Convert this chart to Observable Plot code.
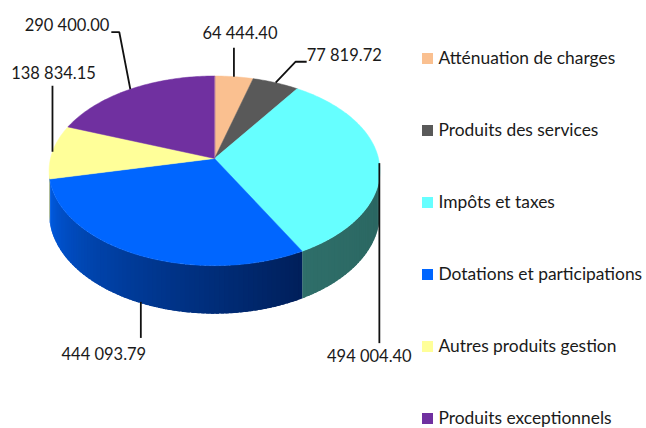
<!DOCTYPE html>
<html><head><meta charset="utf-8">
<script src="https://cdn.jsdelivr.net/npm/d3@7"></script>
<script src="https://cdn.jsdelivr.net/npm/@observablehq/plot@0.6"></script>
<style>html,body{margin:0;padding:0;background:#fff;}#chart{width:646px;height:428px;}</style>
</head><body><div id="chart"></div>
<script>
// ---- data ----
const categories = ["Atténuation de charges","Produits des services","Impôts et taxes","Dotations et participations","Autres produits gestion","Produits exceptionnels"];
const values = [64444.40, 77819.72, 494004.40, 444093.79, 138834.15, 290400.00];

// ---- style ----
const topColors = ["#fac090","#595959","#66ffff","#0066ff","#ffff99","#7030a0"];
const sideColors = [["#c89a72","#b08664"],["#404040","#333333"],["#2f6f6a","#2a6560"],["#005ee8","#001f5a"],["#cccc7a","#b8b86c"],["#5a2680","#4a1f6a"]];
const FONT = "Lato, 'Open Sans', sans-serif";
// 3D projection of the pie (center, radii, perspective, thickness)
const geo = {cx: 214, cy: 158, A: 164, B: 93.2, k: 0.13, h: 41.8};
// label leader layout: anchor rim, path offsets from anchor, text offset from last point
const labelLayout = [
  {rim: "top", path: [[0,0],[0,-29]], text: [6,-14], anchor: "middle"},
  {rim: "top", path: [[0,0],[20,-21],[31,-21]], text: [0,-6], anchor: "start"},
  {rim: "top", path: [[0,0],[0,180]], text: [-10,14], anchor: "middle"},
  {rim: "bottom", path: [[4,0],[4,36]], text: [-37,17], anchor: "middle"},
  {rim: "top", path: [[0,0],[0,-66]], text: [1,-12], anchor: "middle"},
  {rim: "top", path: [[0,0],[-11,-57],[-19,-57]], text: [-2,-7], anchor: "end"}
];
const legendLayout = {x: 427, textX: 438, y0: 58, step: 72};

// ---- geometry ----
function P(a, r = 1, down = 0) {
  const s = 1 + geo.k * r * Math.cos(a);
  return [geo.cx + geo.A * r * Math.sin(a) / s, geo.cy - geo.B * r * Math.cos(a) / s + down * geo.h / s];
}
const arcs = d3.pie().sort(null).startAngle(0).endAngle(2 * Math.PI)(values);
const fmt = v => d3.format(",.2f")(v).replace(/,/g, " ");

// side strips (visible part of the wall, between the silhouettes)
const sideRows = [];
const f0 = Math.acos(-geo.k), f1 = 2 * Math.PI - Math.acos(-geo.k);
arcs.forEach((arc, i) => {
  const a0 = Math.max(arc.startAngle, f0), a1 = Math.min(arc.endAngle, f1);
  if (a1 <= a0) return;
  const n = Math.max(1, Math.ceil((a1 - a0) / (Math.PI / 120)));
  const da = (a1 - a0) / n;
  const col = d3.interpolateRgb(sideColors[i][0], sideColors[i][1]);
  for (let j = 0; j < n; j++) {
    const s0 = a0 + da * j, s1 = Math.min(a1, a0 + da * (j + 1.7));
    const t = 1 - (j + 0.5) / n;
    const c = col(Math.pow(t, 0.8));
    const id = `s${i}-${j}`;
    [P(s0), P((s0 + s1) / 2), P(s1), P(s1, 1, 1), P((s0 + s1) / 2, 1, 1), P(s0, 1, 1)].forEach(([x, y]) => sideRows.push({id, x, y, c}));
  }
});

// top slices
const topRows = [];
arcs.forEach((arc, i) => {
  const id = `t${i}`, c = topColors[i];
  const [cx0, cy0] = P(0, 0);
  topRows.push({id, x: cx0, y: cy0, c});
  const n = Math.max(2, Math.ceil((arc.endAngle - arc.startAngle) / (Math.PI / 180)));
  for (let j = 0; j <= n; j++) {
    const a = arc.startAngle + (arc.endAngle - arc.startAngle) * j / n;
    const [x, y] = P(a);
    topRows.push({id, x, y, c});
  }
});

// leader lines and labels
const leaderRows = [], labelRows = [];
arcs.forEach((arc, i) => {
  const L = labelLayout[i];
  const mid = (arc.startAngle + arc.endAngle) / 2;
  const [ax, ay] = P(mid, 1, L.rim === "bottom" ? 1 : 0);
  let last;
  L.path.forEach(([dx, dy]) => { last = [ax + dx, ay + dy]; leaderRows.push({id: i, x: last[0], y: last[1]}); });
  labelRows.push({x: last[0] + L.text[0], y: last[1] + L.text[1], text: fmt(values[i]), anchor: L.anchor});
});

const legendRows = categories.map((name, i) => ({name, c: topColors[i], y: legendLayout.y0 + i * legendLayout.step}));

const chart = Plot.plot({
  width: 646, height: 428,
  margin: 0,
  style: {background: "#fff", fontFamily: FONT},
  x: {domain: [0, 646], range: [0, 646], axis: null},
  y: {domain: [0, 428], range: [0, 428], axis: null},
  color: {type: "identity"},
  marks: [
    Plot.line(sideRows, {x: "x", y: "y", z: "id", fill: "c", stroke: null, curve: "linear-closed"}),
    Plot.line(topRows, {x: "x", y: "y", z: "id", fill: "c", stroke: "c", strokeWidth: 0.5, curve: "linear-closed"}),
    Plot.line(leaderRows, {x: "x", y: "y", z: "id", stroke: "#111", strokeWidth: 1.8, strokeLinecap: "butt", strokeLinejoin: "miter"}),
    Plot.text(labelRows.filter(d => d.anchor === "middle"), {x: "x", y: "y", text: "text", textAnchor: "middle", fontSize: 16.5, fill: "#1a1a1a"}),
    Plot.text(labelRows.filter(d => d.anchor === "start"), {x: "x", y: "y", text: "text", textAnchor: "start", fontSize: 16.5, fill: "#1a1a1a"}),
    Plot.text(labelRows.filter(d => d.anchor === "end"), {x: "x", y: "y", text: "text", textAnchor: "end", fontSize: 16.5, fill: "#1a1a1a"}),
    Plot.dot(legendRows, {x: () => legendLayout.x, y: "y", symbol: "square", r: 6.2, fill: "c", stroke: null}),
    Plot.text(legendRows, {x: () => legendLayout.textX, y: "y", text: "name", textAnchor: "start", fontSize: 17.4, fill: "#1a1a1a"})
  ]
});
document.getElementById("chart").appendChild(chart);
</script>
</body></html>
